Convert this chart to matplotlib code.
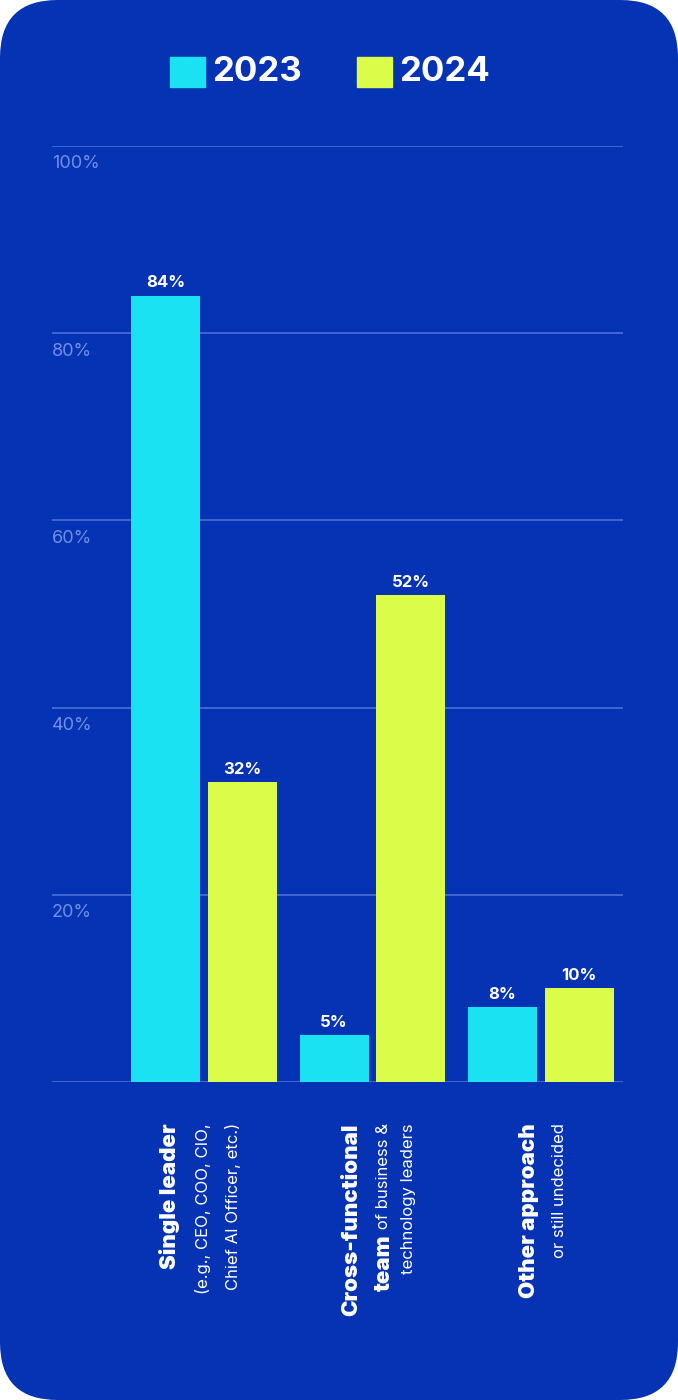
import matplotlib.pyplot as plt
from matplotlib.patches import FancyBboxPatch, Rectangle
import numpy as np

years = ["2023", "2024"]
values_2023 = [84, 5, 8]
values_2024 = [32, 52, 10]
label_lines = [
    [("Single leader", "", True), ("(e.g., CEO, COO, CIO,", "", False), ("Chief AI Officer, etc.)", "", False)],
    [("Cross-functional", "", True), ("team", " of business &", None), ("technology leaders", "", False)],
    [("Other approach", "", True), ("or still undecided", "", False)],
]
yticks = [20, 40, 60, 80, 100]

BG = "#0533b3"
CYAN = "#1ae2f2"
YELLOW = "#dcfc4a"
W, H = 678, 1400

fig = plt.figure(figsize=(W / 100, H / 100), dpi=100)
fig.patch.set_facecolor("white")
fig.patches.append(FancyBboxPatch((0, 0), 1, 1, boxstyle="round,pad=0,rounding_size=0.085",
                                  transform=fig.transFigure, facecolor=BG, edgecolor="none",
                                  mutation_aspect=W / H, zorder=-10))

def fx(px):
    return px / W

def fy(py):
    return 1 - py / H

ax = fig.add_axes([fx(52), fy(1082), fx(623) - fx(52), fy(146) - fy(1082)])
ax.set_facecolor("none")
x = np.arange(3)
off = 0.228
bw = 0.41
ax.bar(x - off, values_2023, bw, color=CYAN, zorder=3)
ax.bar(x + off, values_2024, bw, color=YELLOW, zorder=3)
for xs, vals in ((x - off, values_2023), (x + off, values_2024)):
    for xi, v in zip(xs, vals):
        ax.text(xi, v + 0.6, f"{v}%", ha="center", va="bottom", color="white",
                fontsize=12, fontweight="bold", family="Inter")
ax.set_xlim(-0.902, 2.487)
ax.set_ylim(0, 100)
for t in [0] + yticks:
    ax.axhline(t, color="#4b70d6", lw=1.2, zorder=1)
for t in yticks:
    ax.text(0, t - 1.0, f"{t}%", transform=ax.get_yaxis_transform(), ha="left", va="top",
            color="#6f90e6", fontsize=13, family="Inter")
ax.axis("off")

# legend
for i, (yr, col) in enumerate(zip(years, [CYAN, YELLOW])):
    x0 = 170 + i * 187
    fig.patches.append(Rectangle((fx(x0), fy(87)), fx(35), fy(57) - fy(87),
                                 transform=fig.transFigure, color=col))
    fig.text(fx(x0 + 42), fy(72), yr, color="white", fontsize=25, fontweight="bold",
             family="Inter", va="center", ha="left")

# category labels, rotated
line_x = [[170, 203, 233], [351, 384, 409], [529, 560]]
top = fy(1123)
fig.canvas.draw()
r = fig.canvas.get_renderer()
for lines, xs in zip(label_lines, line_x):
    for (a, b, bold), px in zip(lines, xs):
        if bold is None:
            t2 = fig.text(fx(px), top, b, rotation=90, rotation_mode="anchor", ha="right",
                          va="center", color="white", fontsize=12, family="Inter")
            ext = t2.get_window_extent(r)
            fig.text(fx(px), ext.y0 / H, a, rotation=90, rotation_mode="anchor", ha="right",
                     va="center", color="white", fontsize=16, fontweight="black", family="Inter")
        else:
            fig.text(fx(px), top, a, rotation=90, rotation_mode="anchor", ha="right", va="center",
                     color="white", fontsize=16 if bold else 12,
                     fontweight="black" if bold else "normal", family="Inter")

fig.savefig("out.png", dpi=100, facecolor="white")
